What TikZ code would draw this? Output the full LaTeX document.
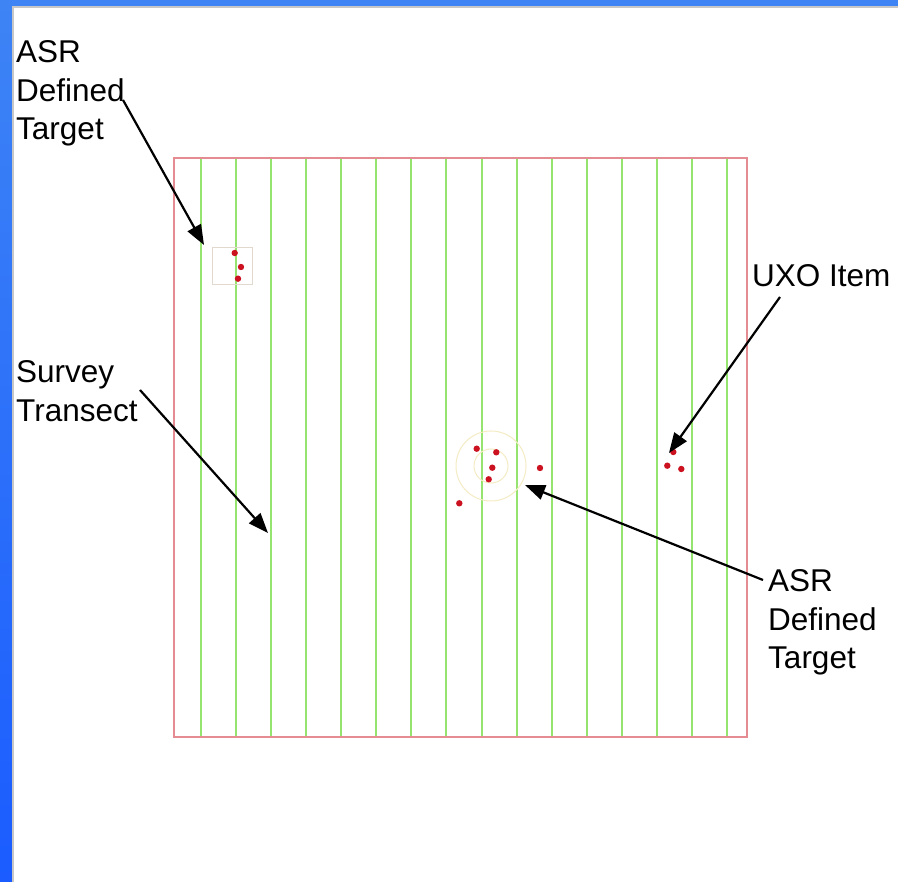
\documentclass[tikz,border=0pt]{standalone}
\usepackage{fontspec}
\setmainfont{Liberation Sans}
\usetikzlibrary{positioning,arrows.meta,calc}
\definecolor{SlideBlue}{RGB}{62,132,245}
\definecolor{SlideBlueDeep}{RGB}{26,92,255}
\definecolor{AreaRed}{RGB}{228,140,146}
\definecolor{LaneGreen}{RGB}{150,228,112}
\definecolor{HaloYellow}{RGB}{244,236,196}
\definecolor{BoxGrey}{RGB}{226,216,206}
\definecolor{HitRed}{RGB}{204,18,32}

\begin{document}
\begin{tikzpicture}[x=1pt, y=-1pt,
  every node/.style={font=\fontsize{31.5}{38.5}\selectfont, align=left, inner sep=0pt, anchor=north west},
  transect/.style={LaneGreen, line width=2pt},
  pointer/.style={-{Triangle[length=20pt,width=15pt]}, line width=2.2pt, black}]
  \useasboundingbox (0,0) rectangle (898,882);
  \fill[white] (0,0) rectangle (898,882);
  % slide frame
  \shade[top color=SlideBlue, bottom color=SlideBlueDeep] (0,0) rectangle (12,882);
  \fill[SlideBlue] (0,0) rectangle (898,6);
  \draw[black!22, line width=2pt] (13,7) -- (13,882);
  \draw[black!22, line width=2pt] (12,7) -- (898,7);

  % survey area and transects
  \foreach \i in {0,...,15}
    \draw[transect] ({201+35.07*\i},158) -- ({201+35.07*\i},737);
  \draw[AreaRed, line width=2pt] (174,158) rectangle (747,737);

  % targets
  \node[draw=BoxGrey, line width=1pt, minimum width=40pt, minimum height=37pt] (box) at (212,247) {};
  \draw[HaloYellow, line width=1pt] (491,466) circle (35) (491,466) circle (17);
  \foreach \p in {(234.7,253),(241,267),(238,278.7),
                  (476.7,448.7),(496.3,452.3),(492.3,467.7),(488.7,479.3),(540,468),(459.3,503.3),
                  (673.3,452),(667.3,465.7),(681.3,469)}
    \fill[HitRed] \p circle (3.2);

  % labels
  \node (asrA) at (16,40.4) {ASR\\Defined\\Target};
  \node (transect) at (16,360.4) {Survey\\Transect};
  \node (uxo) at (752,264.4) {UXO Item};
  \node (asrB) at (768,569.4) {ASR\\Defined\\Target};

  \coordinate (asrAtail) at (123,100);
  \coordinate (asrAtip) at (204,245);
  \coordinate (transtail) at (140,390);
  \coordinate (transtip) at (268,533);
  \coordinate (uxotail) at (780,297);
  \coordinate (uxotip) at (669,453);
  \coordinate (asrBtail) at (763,580);
  \coordinate (asrBtip) at (525,485);
  \draw[pointer] (asrAtail) -- (asrAtip);
  \draw[pointer] (transtail) -- (transtip);
  \draw[pointer] (uxotail) -- (uxotip);
  \draw[pointer] (asrBtail) -- (asrBtip);
\end{tikzpicture}
\end{document}
